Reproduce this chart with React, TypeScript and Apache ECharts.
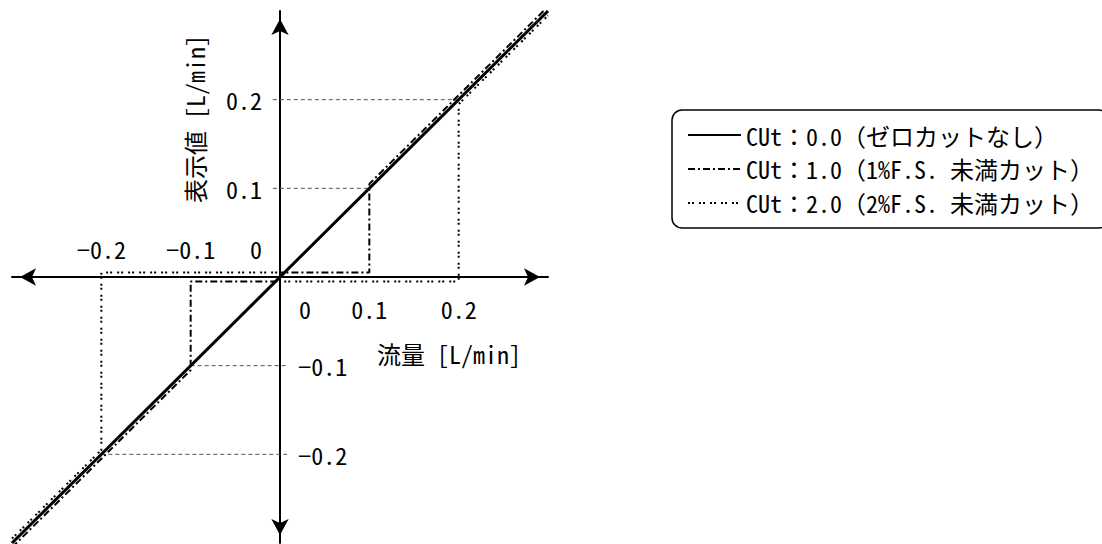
import React, { useEffect, useRef } from "react";
import * as echarts from "echarts";

// ---- data ----
const seriesNames = [
  "CUt：0.0（ゼロカットなし）",
  "CUt：1.0（1%F.S. 未満カット）",
  "CUt：2.0（2%F.S. 未満カット）",
];
const flowSolid = [-0.3, 0.3];
const dispSolid = [-0.3, 0.3];
const flowCut1 = [-0.3, -0.1, -0.1, 0, 0, 0.1, 0.1, 0.3];
const dispCut1 = [-0.3, -0.1, 0, 0, 0, 0, 0.1, 0.3];
const sideCut1 = [-1, -1, -1, -1, 1, 1, 1, 1];
const flowCut2 = [-0.3, -0.2, -0.2, 0, 0, 0.2, 0.2, 0.3];
const dispCut2 = [-0.3, -0.2, 0, 0, 0, 0, 0.2, 0.3];
const sideCut2 = [1, 1, 1, 1, -1, -1, -1, -1];
const xTicksBelow = [0, 0.1, 0.2];
const xTicksAbove = [-0.2, -0.1, 0];
const yTicksLeft = [0.1, 0.2];
const yTicksRight = [-0.1, -0.2];
const guideLevels = [0.2, 0.1, -0.1, -0.2];
const axisMin = -0.3;
const axisMax = 0.3;
const xName = "流量 [L/min]";
const yName = "表示値 [L/min]";

// ---- style ----
const FONT = "'Noto Sans Mono CJK JP', 'Liberation Mono', 'Noto Sans CJK JP', monospace";
const FS = 24;
const NUDGE = 0.005; // small visual separation of overlapping lines
const OVERHANG = 0.008;
const GRID = { left: 12, right: 554, top: 11, bottom: 1 };
const W = 1102;
const H = 544;

const fmt = (v: number) => {
  if (Math.abs(v) < 1e-9) return "0";
  return v < 0 ? "−" + Math.abs(v).toFixed(1) : v.toFixed(1);
};
const r1 = (v: number) => Math.round(v * 10) / 10;
const has = (arr: number[], v: number) => arr.some((t) => Math.abs(t - v) < 1e-9);

export default function App() {
  const ref = useRef<HTMLDivElement>(null);
  useEffect(() => {
    if (!ref.current) return;
    const chart = echarts.init(ref.current, undefined, { renderer: "svg" });
    const gw = W - GRID.left - GRID.right;
    const gh = H - GRID.top - GRID.bottom;

    const labelStyle = { fontFamily: FONT, fontSize: FS, color: "#000" };

    const guideSeries = guideLevels.map((v) => ({
      type: "line",
      xAxisIndex: 0,
      yAxisIndex: 0,
      silent: true,
      symbol: "none",
      z: 1,
      lineStyle: { color: "#555", width: 1, type: [4, 3] },
      data: v > 0 ? [[-OVERHANG, v], [v, v]] : [[v, v], [OVERHANG, v]],
    }));

    const option: any = {
      animation: false,
      backgroundColor: "#fff",
      grid: { ...GRID, containLabel: false },
      legend: {
        orient: "vertical",
        left: 672,
        top: 110,
        itemWidth: 53,
        itemHeight: 14,
        itemGap: 10,
        padding: [13, 15, 13, 15],
        borderColor: "#000",
        borderWidth: 1.5,
        borderRadius: 10,
        itemStyle: { color: "transparent", borderWidth: 0 },
        textStyle: { fontFamily: FONT, fontSize: FS, color: "#000" },
        data: seriesNames,
      },
      xAxis: [
        {
          type: "value",
          min: axisMin,
          max: axisMax,
          interval: 0.1,
          position: "bottom",
          offset: -gh / 2,
          axisLine: {
            onZero: false,
            show: true,
            symbol: ["arrow", "arrow"],
            symbolSize: [13, 16],
            symbolOffset: [8, -8],
            lineStyle: { color: "#000", width: 2 },
          },
          axisTick: { show: false },
          splitLine: { show: false },
          axisLabel: {
            ...labelStyle,
            margin: 19,
            formatter: (v: number) => {
              const r = r1(v);
              if (!has(xTicksBelow, r)) return "";
              return Math.abs(r) < 1e-9 ? "{z|0}" : fmt(r);
            },
            rich: { z: { ...labelStyle, padding: [0, 0, 0, 50] } },
          },
        },
        {
          type: "value",
          min: axisMin,
          max: axisMax,
          interval: 0.1,
          position: "top",
          offset: -gh / 2,
          axisLine: { onZero: false, show: false },
          axisTick: { show: false },
          splitLine: { show: false },
          axisLabel: {
            ...labelStyle,
            margin: 17,
            formatter: (v: number) => {
              const r = r1(v);
              if (!has(xTicksAbove, r)) return "";
              return Math.abs(r) < 1e-9 ? "{z|0}" : fmt(r);
            },
            rich: { z: { ...labelStyle, padding: [0, 48, 0, 0] } },
          },
        },
      ],
      yAxis: [
        {
          type: "value",
          min: axisMin,
          max: axisMax,
          interval: 0.1,
          position: "left",
          offset: -gw / 2,
          axisLine: {
            onZero: false,
            show: true,
            symbol: ["arrow", "arrow"],
            symbolSize: [13, 16],
            symbolOffset: [8, -8],
            lineStyle: { color: "#000", width: 2 },
          },
          axisTick: { show: false },
          splitLine: { show: false },
          axisLabel: {
            ...labelStyle,
            margin: 18,
            formatter: (v: number) => {
              const r = r1(v);
              return has(yTicksLeft, r) ? fmt(r) : "";
            },
          },
        },
        {
          type: "value",
          min: axisMin,
          max: axisMax,
          interval: 0.1,
          position: "right",
          offset: -gw / 2,
          axisLine: { onZero: false, show: false },
          axisTick: { show: false },
          splitLine: { show: false },
          axisLabel: {
            ...labelStyle,
            margin: 18,
            formatter: (v: number) => {
              const r = r1(v);
              return has(yTicksRight, r) ? fmt(r) : "";
            },
          },
        },
      ],
      graphic: [
        {
          type: "text",
          left: 377,
          top: 341,
          style: { text: xName, font: `${FS}px ${FONT}`, fill: "#000" },
        },
        {
          type: "text",
          x: 182,
          y: 203,
          rotation: Math.PI / 2,
          style: { text: yName, font: `${FS}px ${FONT}`, fill: "#000" },
        },
      ],
      series: [
        ...guideSeries,
        {
          name: seriesNames[2],
          type: "line",
          symbol: "none",
          z: 3,
          color: "#000",
          lineStyle: { color: "#000", width: 2, type: [2, 2, 2, 5] },
          data: flowCut2.map((x, i) => [x, dispCut2[i] + sideCut2[i] * NUDGE]),
        },
        {
          name: seriesNames[1],
          type: "line",
          symbol: "none",
          z: 3,
          color: "#000",
          lineStyle: { color: "#000", width: 2, type: [7, 3, 2, 3] },
          data: flowCut1.map((x, i) => [x, dispCut1[i] + sideCut1[i] * NUDGE]),
        },
        {
          name: seriesNames[0],
          type: "line",
          symbol: "none",
          z: 4,
          color: "#000",
          lineStyle: { color: "#000", width: 3 },
          data: flowSolid.map((x, i) => [x, dispSolid[i]]),
        },
      ],
    };
    chart.setOption(option);
    return () => chart.dispose();
  }, []);
  return (
    <div
      ref={ref}
      style={{ position: "fixed", left: 0, top: 0, width: W, height: H, background: "#fff" }}
    />
  );
}
